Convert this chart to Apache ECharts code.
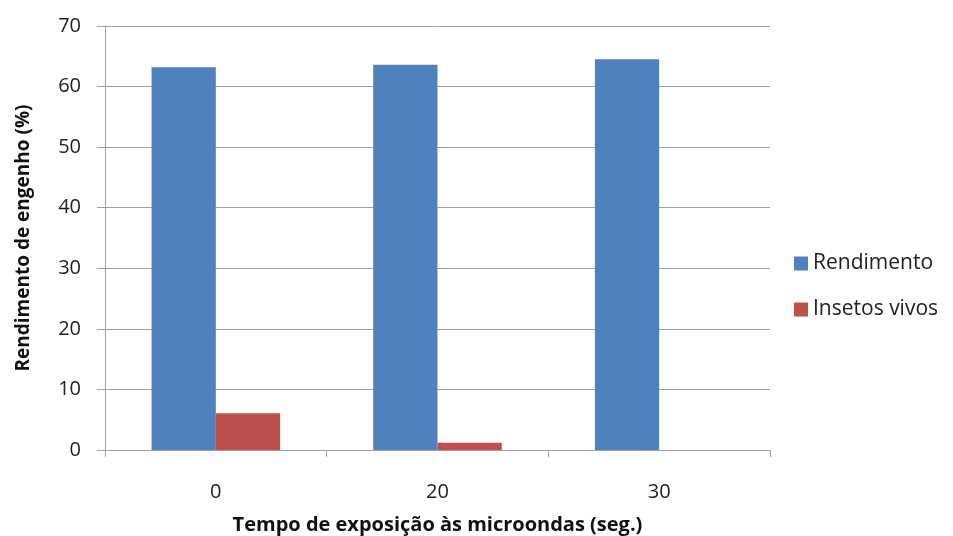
<!DOCTYPE html>
<html><head><meta charset="utf-8">
<script src="https://cdn.jsdelivr.net/npm/echarts@6/dist/echarts.min.js"></script>
<style>html,body{margin:0;padding:0;background:#fff;overflow:hidden}#c{width:953px;height:536px}</style>
</head><body><div id="c"></div>
<script>
const categories = ['0', '20', '30'];
const rendimento = [63.2, 63.6, 64.5];
const insetosVivos = [6.05, 1.2, 0];
const seriesNames = ['Rendimento', 'Insetos vivos'];
const xAxisTitle = 'Tempo de exposição às microondas (seg.)';
const yAxisTitle = 'Rendimento de engenho (%)';

const FONT = 'Open Sans';
const chart = echarts.init(document.getElementById('c'), null, {renderer: 'canvas', width: 953, height: 536});
chart.setOption({
  animation: false,
  backgroundColor: '#fff',
  grid: {left: 105, right: 183, top: 26, bottom: 86, containLabel: false, outerBoundsMode: 'none'},
  legend: {
    orient: 'vertical', left: 789, top: 248, itemGap: 25,
    itemWidth: 14, itemHeight: 14, icon: 'rect',
    textStyle: {fontFamily: FONT, fontSize: 21, color: '#222', padding: [0, 0, 0, 0]},
    data: seriesNames
  },
  xAxis: {
    type: 'category', data: categories,
    name: xAxisTitle, nameLocation: 'middle', nameGap: 65,
    nameTextStyle: {fontFamily: FONT, fontSize: 20, fontWeight: 'bold', color: '#111'},
    axisLine: {lineStyle: {color: '#a0a0a0', width: 1}},
    axisTick: {show: true, alignWithLabel: false, length: 7, lineStyle: {color: '#a0a0a0'}},
    axisLabel: {fontFamily: FONT, fontSize: 20, color: '#222', margin: 32}
  },
  yAxis: {
    type: 'value', min: 0, max: 70, interval: 10,
    name: yAxisTitle, nameLocation: 'middle', nameGap: 72, nameRotate: 90,
    nameTextStyle: {fontFamily: FONT, fontSize: 19, fontWeight: 'bold', color: '#111'},
    axisLine: {show: true, lineStyle: {color: '#a0a0a0', width: 1}},
    axisTick: {show: true, length: 8, lineStyle: {color: '#a0a0a0'}},
    axisLabel: {fontFamily: FONT, fontSize: 20, color: '#222', margin: 24},
    splitLine: {show: true, lineStyle: {color: '#a0a0a0', width: 1}}
  },
  series: [
    {name: seriesNames[0], type: 'bar', data: rendimento, barGap: '0%', barCategoryGap: '42%',
     itemStyle: {color: '#4f81bd', borderWidth: 0}},
    {name: seriesNames[1], type: 'bar', data: insetosVivos,
     itemStyle: {color: '#c0504d', borderWidth: 0}}
  ]
});
</script></body></html>
